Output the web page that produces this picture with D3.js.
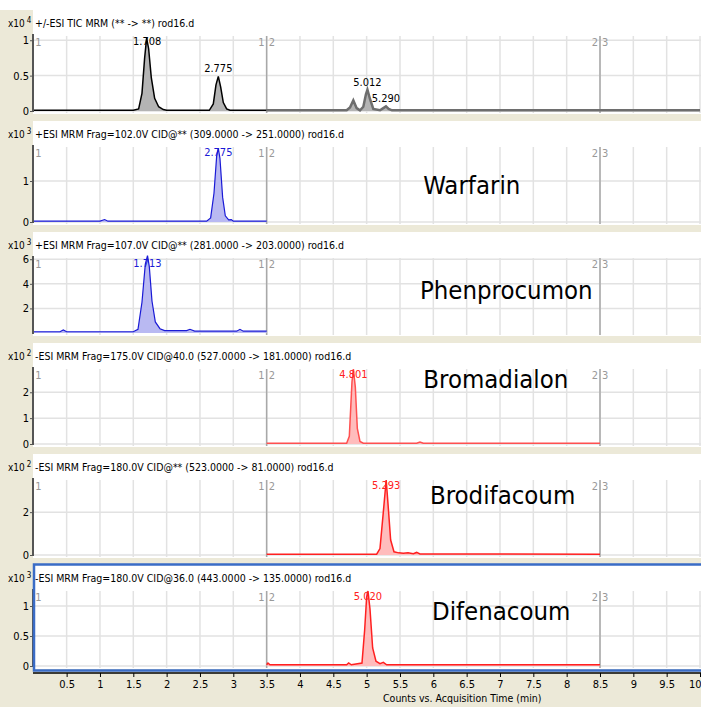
<html>
<script src="https://d3js.org/d3.v7.min.js"></script>
<style>
  body { margin: 0; background: #ece9d8; }
  text { font-family: "Liberation Sans Narrow", "DejaVu Sans Condensed", "Arial Narrow", sans-serif; }
</style>
<svg id="chart" width="701" height="707"></svg>
<script>
// chart values
var panelTitles = [
  "+/-ESI TIC MRM (** -> **) rod16.d",
  "+ESI MRM Frag=102.0V CID@** (309.0000 -> 251.0000) rod16.d",
  "+ESI MRM Frag=107.0V CID@** (281.0000 -> 203.0000) rod16.d",
  "-ESI MRM Frag=175.0V CID@40.0 (527.0000 -> 181.0000) rod16.d",
  "-ESI MRM Frag=180.0V CID@** (523.0000 -> 81.0000) rod16.d",
  "-ESI MRM Frag=180.0V CID@36.0 (443.0000 -> 135.0000) rod16.d"
];
var exponents = [4, 3, 3, 2, 2, 3];
var compoundNames = ["", "Warfarin", "Phenprocumon", "Bromadialon", "Brodifacoum", "Difenacoum"];
var yTicks = [[0, 0.5, 1], [0, 1], [2, 4, 6], [0, 1, 2], [0, 2], [0, 0.5, 1]];
var yTickLabels = [["0", "0.5", "1"], ["0", "1"], ["2", "4", "6"], ["0", "1", "2"], ["0", "2"], ["0", "0.5", "1"]];
var yMax = [1.06, 1.83, 6.1, 2.9, 3.5, 1.25];
var xTicks = [0.5, 1, 1.5, 2, 2.5, 3, 3.5, 4, 4.5, 5, 5.5, 6, 6.5, 7, 7.5, 8, 8.5, 9, 9.5, 10];
var segmentEdges = [3.5, 8.5];

// traces: [time (min), counts]
var ticSeg1 = [[0,0.01],[0.6,0.01],[1.5,0.01],[1.58,0.03],[1.63,0.25],[1.67,0.75],[1.70,1.03],[1.73,0.88],[1.77,0.47],[1.82,0.18],[1.88,0.06],[1.95,0.02],[2.0,0.01],[2.64,0.01],[2.7,0.1],[2.74,0.37],[2.775,0.49],[2.81,0.34],[2.85,0.12],[2.9,0.03],[2.95,0.01],[3.5,0.01]];
var ticSeg2 = [[3.5,0.01],[4.7,0.01],[4.75,0.05],[4.8,0.15],[4.85,0.04],[4.9,0.01],[4.95,0.06],[4.99,0.24],[5.012,0.30],[5.05,0.17],[5.1,0.03],[5.2,0.01],[5.25,0.04],[5.29,0.065],[5.33,0.03],[5.38,0.01],[10,0.01]];
var warfarin = [[0,0.02],[1.0,0.02],[1.07,0.06],[1.12,0.02],[2.6,0.02],[2.66,0.1],[2.71,0.7],[2.75,1.6],[2.775,1.8],[2.8,1.55],[2.84,0.6],[2.88,0.15],[2.93,0.05],[2.97,0.06],[3.0,0.02],[3.5,0.02]];
var phenprocumon = [[0,0.1],[0.4,0.1],[0.45,0.25],[0.5,0.1],[1.5,0.1],[1.57,0.3],[1.63,2.5],[1.68,5.6],[1.713,6.3],[1.74,5.4],[1.78,2.6],[1.83,0.9],[1.9,0.35],[1.97,0.2],[2.3,0.2],[2.35,0.3],[2.42,0.15],[3.05,0.15],[3.1,0.3],[3.15,0.15],[3.5,0.15]];
var bromadialon = [[3.5,0.03],[4.7,0.03],[4.74,0.3],[4.78,2.4],[4.801,2.9],[4.83,2.2],[4.86,0.6],[4.9,0.1],[4.95,0.03],[5.75,0.03],[5.8,0.08],[5.85,0.03],[8.5,0.03]];
var brodifacoum = [[3.5,0.04],[5.15,0.04],[5.2,0.3],[5.25,2.0],[5.293,3.5],[5.32,2.4],[5.36,0.7],[5.41,0.15],[5.48,0.1],[5.55,0.08],[5.62,0.1],[5.7,0.06],[5.75,0.12],[5.8,0.05],[8.5,0.04]];
var difenacoum = [[3.5,0.02],[3.52,0.05],[3.55,0.02],[4.7,0.02],[4.73,0.05],[4.77,0.02],[4.93,0.05],[4.97,0.6],[5.0,1.15],[5.02,1.25],[5.05,0.95],[5.09,0.3],[5.14,0.08],[5.2,0.04],[5.25,0.06],[5.3,0.02],[8.5,0.02]];

var traces = [
  [{pts: ticSeg1, line: "#000000", fill: "#b4b4b4", w: 1.5}, {pts: ticSeg2, line: "#6e6e6e", fill: "#b4b4b4", w: 2.5}],
  [{pts: warfarin, line: "#1a1ad6", fill: "#b9b9f2", w: 1.2}],
  [{pts: phenprocumon, line: "#1a1ad6", fill: "#b9b9f2", w: 1.2}],
  [{pts: bromadialon, line: "#ff5050", fill: "#ffbcbc", w: 1.5}],
  [{pts: brodifacoum, line: "#ff2020", fill: "#ffbcbc", w: 1.5}],
  [{pts: difenacoum, line: "#ff2020", fill: "#ffbcbc", w: 1.5}]
];
var peakLabels = [
  [[1.708, 1.03, "1.708"], [2.775, 0.49, "2.775"], [5.012, 0.30, "5.012"], [5.29, 0.065, "5.290"]],
  [[2.775, 1.8, "2.775"]],
  [[1.713, 6.3, "1.713"]],
  [[4.801, 2.9, "4.801"]],
  [[5.293, 3.5, "5.293"]],
  [[5.02, 1.25, "5.020"]]
];
var labelColors = ["#000", "#1a1ad6", "#1a1ad6", "#ff2020", "#ff2020", "#ff2020"];

// where the compound name sits in each panel (baseline below panel top, start time)
var nameOffsetY = [0, 73, 67, 45, 50, 55];
var nameStartX = [0, 5.85, 5.8, 5.85, 5.95, 5.98];

var svg = d3.select("#chart");
var left = 33, right = 701;
var x = d3.scaleLinear().domain([0, 10]).range([33.3, 700]);

svg.append("rect").attr("x", 0).attr("y", 0).attr("width", 701).attr("height", 10).attr("fill", "#fff");

panelTitles.forEach(function(title, i) {
  var top = 10 + i * 111;
  var y0 = top + 101, y1 = top + 26;
  var y = d3.scaleLinear().domain([0, yMax[i]]).range([y0, y1]);
  var g = svg.append("g");

  // white panel
  g.append("rect").attr("x", left).attr("y", top).attr("width", right - left).attr("height", 104).attr("fill", "#fff");

  // gridlines
  g.selectAll(".vg").data(xTicks).enter().append("line")
    .attr("x1", function(d) { return x(d); }).attr("x2", function(d) { return x(d); })
    .attr("y1", y1).attr("y2", y0 + 2)
    .attr("stroke", "#e2e2e2").attr("stroke-width", 1.5);
  g.selectAll(".hg").data(yTicks[i]).enter().append("line")
    .attr("x1", left).attr("x2", right)
    .attr("y1", function(d) { return y(d); }).attr("y2", function(d) { return y(d); })
    .attr("stroke", "#e2e2e2").attr("stroke-width", 1.5);

  // segment boundaries
  g.selectAll(".seg").data(segmentEdges).enter().append("line")
    .attr("x1", function(d) { return x(d); }).attr("x2", function(d) { return x(d); })
    .attr("y1", y1).attr("y2", y0 + 2)
    .attr("stroke", "#a8a8a8").attr("stroke-width", 1.5);
  var segLabels = [[0, "1", "start"], [3.5, "1", "end"], [3.5, "2", "start"], [8.5, "2", "end"], [8.5, "3", "start"]];
  g.selectAll(".sl").data(segLabels).enter().append("text")
    .attr("x", function(d) { return x(d[0]) + (d[2] == "start" ? 2 : -2); })
    .attr("y", y1 + 10)
    .attr("text-anchor", function(d) { return d[2]; })
    .attr("font-size", 11).attr("fill", "#999")
    .text(function(d) { return d[1]; });

  // traces
  var area = d3.area().x(function(d) { return x(d[0]); }).y0(y0).y1(function(d) { return y(d[1]); });
  var line = d3.line().x(function(d) { return x(d[0]); }).y(function(d) { return y(d[1]); });
  traces[i].forEach(function(t) {
    g.append("path").datum(t.pts).attr("d", area).attr("fill", t.fill);
    g.append("path").datum(t.pts).attr("d", line).attr("fill", "none")
      .attr("stroke", t.line).attr("stroke-width", t.w);
  });

  // peak labels
  g.selectAll(".pl").data(peakLabels[i]).enter().append("text")
    .attr("x", function(d) { return x(d[0]); })
    .attr("y", function(d) { return Math.max(y(d[1]) - 4, y1 + 9); })
    .attr("text-anchor", "middle").attr("font-size", 11)
    .attr("fill", labelColors[i])
    .text(function(d) { return d[2]; });

  // y axis
  var axis = d3.axisLeft(y).tickValues(yTicks[i]).tickSize(3)
    .tickFormat(function(d, k) { return yTickLabels[i][k]; });
  var ag = g.append("g").attr("transform", "translate(" + left + ",0)").call(axis);
  ag.select(".domain").attr("stroke", "#555").attr("stroke-width", 2).attr("d", "M0," + (y1 - 2) + "V" + (y0 + 1));
  ag.selectAll("text").attr("font-size", 11).attr("fill", "#000").attr("x", -4);
  ag.selectAll("line").attr("stroke", "#555");

  // header
  var hy = top + 17;
  var mult = g.append("text").attr("x", 8).attr("y", hy).attr("font-size", 10).attr("fill", "#000");
  mult.append("tspan").text("x10");
  mult.append("tspan").attr("dy", -4).attr("dx", 2).attr("font-size", 8).text(exponents[i]);
  g.append("text").attr("x", left + 2).attr("y", hy).attr("font-size", 10.5).attr("fill", "#000").text(title);

  // compound name
  if (compoundNames[i]) {
    g.append("text").attr("x", x(nameStartX[i])).attr("y", top + nameOffsetY[i]).attr("font-size", 25.5)
      .attr("fill", "#000").text(compoundNames[i]);
  }
});

// selected panel border
svg.append("rect").attr("x", left + 1).attr("y", 564.5).attr("width", right - left + 2).attr("height", 106)
  .attr("fill", "none").attr("stroke", "#3a6cc6").attr("stroke-width", 2.5);

// x axis
var xa = svg.append("g").attr("transform", "translate(0,673)")
  .call(d3.axisBottom(x).tickValues(xTicks).tickSize(4).tickFormat(d3.format("")));
xa.select(".domain").attr("stroke", "#000").attr("stroke-width", 1.5).attr("d", "M" + left + ",0H" + right);
xa.selectAll("text").attr("font-size", 11).attr("fill", "#000");
xa.selectAll("text").filter(function(d) { return d == 10; }).attr("text-anchor", "end").attr("dx", 1);

svg.append("text").attr("x", 383).attr("y", 702).attr("font-size", 10.5).attr("fill", "#000")
  .text("Counts vs. Acquisition Time (min)");
</script>
</html>
